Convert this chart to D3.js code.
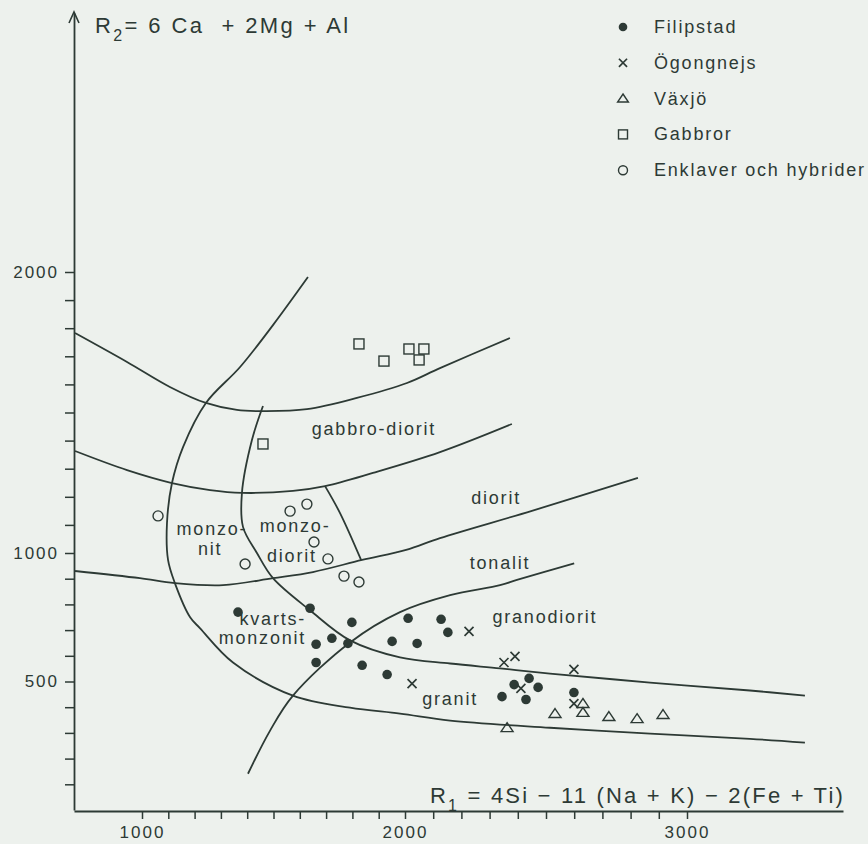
<!DOCTYPE html>
<html>
<head>
<meta charset="utf-8">
<script src="https://cdn.jsdelivr.net/npm/d3@7"></script>
<style>
  body { margin: 0; background: #edf1ed; }
  svg { display: block; }
  text { font-family: "Liberation Sans", Arial, sans-serif; fill: #2d3a35; }
</style>
</head>
<body>
<svg width="868" height="844"></svg>
<script>
// samples (R1, R2)
const filipstad = [[1365,770],[1639,785],[1798,730],[1722,668],[1662,645],[1783,648],[1662,574],[1837,563],[1932,527],[2011,746],[2128,742],[2152,691],[1951,656],[2043,648],[2344,441],[2387,488],[2440,512],[2472,477],[2429,430],[2599,457]];
const ogongnejs = [[2227,695],[2025,492],[2351,574],[2390,598],[2599,547],[2411,473],[2599,414]];
const vaxjo = [[2362,320],[2532,375],[2631,379],[2631,414],[2723,363],[2823,355],[2915,371]];
const gabbror = [[1825,1744],[1920,1683],[2014,1726],[2067,1726],[2050,1687],[1460,1388]];
const enklaver = [[1061,1132],[1563,1149],[1627,1174],[1654,1039],[1392,957],[1707,977],[1768,910],[1825,887]];

// field boundaries (R1, R2)
const lineTop = [[745,1783],[943,1680],[1106,1591],[1243,1534],[1361,1509],[1468,1505],[1627,1512],[1817,1552],[2007,1605],[2124,1658],[2372,1765]];
const lineMid = [[745,1363],[943,1295],[1114,1249],[1259,1224],[1380,1214],[1574,1221],[1696,1238],[1878,1285],[2124,1359],[2379,1459]];
const lineLow = [[745,930],[992,902],[1125,883],[1308,875],[1498,902],[1650,926],[1837,973],[2004,1011],[2124,1053],[2450,1150],[2826,1267]];
const lineDiorit = [[1696,1238],[1753,1142],[1833,973]];
const lineOuter = [[1631,1982],[1498,1811],[1373,1662],[1243,1534],[1156,1377],[1114,1249],[1095,1107],[1099,973],[1125,883],[1183,750],[1221,707],[1346,574],[1574,445],[1791,398],[1981,375],[2160,348],[2514,320],[2869,297],[3223,277],[3418,262]];
const lineInner = [[1460,1523],[1418,1402],[1380,1214],[1384,1093],[1437,1000],[1498,902],[1639,777],[1791,660],[1981,594],[2160,570],[2337,551],[2514,531],[2869,496],[3223,465],[3418,445]];
const lineDiag = [[1403,141],[1487,309],[1574,445],[1791,652],[1981,770],[2160,836],[2337,875],[2397,895],[2600,960]];

// field names (R1, R2 of the text baseline)
const fieldNames = [
  ["gabbro-diorit", 1882, 1420, "middle"],
  ["diorit", 2323, 1174, "middle"],
  ["monzo-", 1266, 1064, "middle"],
  ["nit", 1259, 992, "middle"],
  ["monzo-", 1582, 1075, "middle"],
  ["diorit", 1570, 965, "middle"],
  ["tonalit", 2337, 938, "middle"],
  ["kvarts-", 1624, 719, "end"],
  ["monzonit", 1624, 645, "end"],
  ["granodiorit", 2496, 727, "middle"],
  ["granit", 2160, 410, "middle"]
];

const xTicks = d3.range(1000, 3001, 100);
const yTicks = d3.range(100, 2001, 100);
const xLabels = [1000, 2000, 3000];
const yLabels = [500, 1000, 2000];

const ink = "#2d3a35";
const svg = d3.select("svg");

// the hand-drawn axes are not quite even, so piecewise scales
const x = d3.scaleLinear()
  .domain([741, 1000, 2000, 3000, 3553])
  .range([74, 142, 405, 687, 843]);
const y = d3.scaleLinear()
  .domain([0, 1000, 2000, 2922])
  .range([810, 553, 272, 13]);

const line = d3.line()
  .x(d => x(d[0]))
  .y(d => y(d[1]))
  .curve(d3.curveCatmullRom.alpha(0.5));

const g = svg.append("g");

[lineTop, lineMid, lineLow, lineDiorit, lineOuter, lineInner, lineDiag].forEach(pts => {
  g.append("path")
    .attr("d", line(pts))
    .attr("fill", "none")
    .attr("stroke", ink)
    .attr("stroke-width", 1.8);
});

// axes
const xAxis = d3.axisBottom(x)
  .tickValues(xTicks)
  .tickSize(8)
  .tickSizeOuter(0)
  .tickPadding(7)
  .tickFormat(d => xLabels.includes(d) ? d : "");
const yAxis = d3.axisLeft(y)
  .tickValues(yTicks)
  .tickSize(9)
  .tickSizeOuter(0)
  .tickPadding(6)
  .tickFormat(d => yLabels.includes(d) ? d : "");

const gx = svg.append("g").attr("transform", "translate(0,811)").call(xAxis);
const gy = svg.append("g").attr("transform", "translate(74,0)").call(yAxis);
[gx, gy].forEach(a => {
  a.select(".domain").attr("stroke", ink).attr("stroke-width", 1.8);
  a.selectAll(".tick line").attr("stroke", ink).attr("stroke-width", 1.5);
  a.selectAll(".tick text")
    .style("font-family", '"Liberation Sans", Arial, sans-serif')
    .style("font-size", "17px")
    .style("letter-spacing", "2px")
    .attr("fill", ink);
});

// arrow head on R2 axis
svg.append("path")
  .attr("d", "M69,23 L74,12 L79,23")
  .attr("fill", "none")
  .attr("stroke", ink)
  .attr("stroke-width", 1.6);

// axis titles
const t2 = svg.append("text")
  .attr("x", 95).attr("y", 33)
  .attr("xml:space", "preserve")
  .style("font-size", "22px")
  .style("letter-spacing", "2.4px");
t2.append("tspan").text("R");
t2.append("tspan").attr("dy", 8).style("font-size", "16px").text("2");
t2.append("tspan").attr("dy", -8).text("= 6 Ca  + 2Mg + Al");

const t1 = svg.append("text")
  .attr("x", 430).attr("y", 803)
  .attr("xml:space", "preserve")
  .style("font-size", "22px")
  .style("letter-spacing", "2.2px");
t1.append("tspan").text("R");
t1.append("tspan").attr("dy", 8).style("font-size", "16px").text("1");
t1.append("tspan").attr("dy", -8).text(" = 4Si − 11 (Na + K) − 2(Fe + Ti)");

// field names
g.selectAll("text.field")
  .data(fieldNames)
  .join("text")
  .attr("class", "field")
  .attr("x", d => x(d[1]))
  .attr("y", d => y(d[2]))
  .attr("text-anchor", d => d[3])
  .style("font-size", "18px")
  .style("letter-spacing", "1.8px")
  .text(d => d[0]);

// symbols
function drawSymbol(sel, type, s) {
  if (type === "dot") {
    sel.append("circle").attr("r", s * 0.48).attr("fill", ink);
  } else if (type === "circle") {
    sel.append("circle").attr("r", s * 0.5).attr("fill", "none").attr("stroke", ink).attr("stroke-width", 1.4);
  } else if (type === "square") {
    sel.append("rect").attr("x", -s / 2).attr("y", -s / 2).attr("width", s).attr("height", s)
      .attr("fill", "none").attr("stroke", ink).attr("stroke-width", 1.4);
  } else if (type === "triangle") {
    const h = s * 0.85;
    sel.append("path").attr("d", `M0,${-h * 0.6}L${s * 0.6},${h * 0.45}L${-s * 0.6},${h * 0.45}Z`)
      .attr("fill", "none").attr("stroke", ink).attr("stroke-width", 1.4);
  } else if (type === "cross") {
    const a = s * 0.45;
    sel.append("path").attr("d", `M${-a},${-a}L${a},${a}M${-a},${a}L${a},${-a}`)
      .attr("stroke", ink).attr("stroke-width", 1.7);
  }
}

const groups = [
  [filipstad, "dot", "Filipstad"],
  [ogongnejs, "cross", "Ögongnejs"],
  [vaxjo, "triangle", "Växjö"],
  [gabbror, "square", "Gabbror"],
  [enklaver, "circle", "Enklaver och hybrider"]
];

groups.forEach(([pts, type]) => {
  g.selectAll(null)
    .data(pts)
    .join("g")
    .attr("transform", d => `translate(${x(d[0])},${y(d[1])})`)
    .each(function () { drawSymbol(d3.select(this), type, 10); });
});

// legend
const legend = svg.append("g").attr("transform", "translate(623,27)");
groups.forEach(([, type, name], i) => {
  const row = legend.append("g").attr("transform", `translate(0,${i * 35.8})`);
  drawSymbol(row, type, 9);
  row.append("text")
    .attr("x", 31).attr("y", 6)
    .style("font-size", "18px")
    .style("letter-spacing", "1.8px")
    .text(name);
});
</script>
</body>
</html>
